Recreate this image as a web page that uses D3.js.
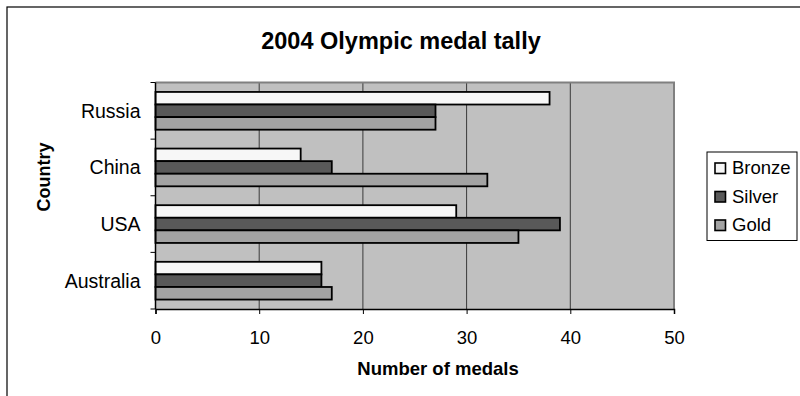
<!DOCTYPE html>
<html>
<head>
<meta charset="utf-8">
<script src="https://cdn.jsdelivr.net/npm/d3@7"></script>
<style>
  body { margin: 0; background: #fff; }
  svg { display: block; font-family: "Liberation Sans", Arial, sans-serif; }
</style>
</head>
<body>
<svg width="800" height="396"></svg>
<script>
// chart data
const countries = ["Russia", "China", "USA", "Australia"];
const series = ["Bronze", "Silver", "Gold"];
const bronze = [38, 14, 29, 16];
const silver = [27, 17, 39, 16];
const gold = [27, 32, 35, 17];
const xTicks = [0, 10, 20, 30, 40, 50];

const fills = { Bronze: "#f7f7f7", Silver: "#595959", Gold: "#a3a3a3" };
const values = { Bronze: bronze, Silver: silver, Gold: gold };

const svg = d3.select("svg");

// outer chart frame (runs off the right/bottom edge like the original)
svg.append("rect")
    .attr("x", 7).attr("y", 7)
    .attr("width", 860).attr("height", 420)
    .attr("fill", "#fff")
    .attr("stroke", "#000")
    .attr("stroke-width", 1.2);

const plot = { left: 155.5, right: 674, top: 82.5, bottom: 309 };

const x = d3.scaleLinear().domain([0, 50]).range([plot.left, plot.right]);
const y = d3.scaleBand().domain(countries).range([plot.top, plot.bottom]);

// bars take 3 parts, gap width 150% of a bar => 1.5 parts
const inner = d3.scaleBand().domain(series)
    .range([0, y.bandwidth()])
    .paddingOuter(0.75).paddingInner(0);

// plot background
svg.append("rect")
    .attr("x", plot.left).attr("y", plot.top)
    .attr("width", plot.right - plot.left).attr("height", plot.bottom - plot.top)
    .attr("fill", "#c0c0c0");

// gridlines
svg.append("g")
    .selectAll("line")
    .data(xTicks.slice(1, -1))
    .join("line")
    .attr("x1", d => x(d)).attr("x2", d => x(d))
    .attr("y1", plot.top).attr("y2", plot.bottom)
    .attr("stroke", "#3a3a3a")
    .attr("stroke-width", 1);

// plot border top + right (gray)
svg.append("path")
    .attr("d", `M${plot.left},${plot.top}H${plot.right}V${plot.bottom}`)
    .attr("fill", "none")
    .attr("stroke", "#808080")
    .attr("stroke-width", 2);

// bars
const rows = [];
countries.forEach((c, i) => {
    series.forEach(s => rows.push({ country: c, series: s, value: values[s][i] }));
});

svg.append("g")
    .selectAll("rect")
    .data(rows)
    .join("rect")
    .attr("x", x(0))
    .attr("y", d => y(d.country) + inner(d.series))
    .attr("width", d => x(d.value) - x(0))
    .attr("height", inner.bandwidth())
    .attr("fill", d => fills[d.series])
    .attr("stroke", "#000")
    .attr("stroke-width", 1.8);

// x axis
const xAxis = svg.append("g")
    .attr("transform", `translate(0,${plot.bottom})`)
    .call(d3.axisBottom(x).tickValues(xTicks).tickSize(5).tickPadding(17));
xAxis.select(".domain").attr("stroke", "#000").attr("stroke-width", 1.5);
xAxis.selectAll(".tick line").attr("stroke", "#000");
xAxis.selectAll("text").attr("font-size", 18.5).attr("fill", "#000")
    .attr("font-family", "Liberation Sans, Arial, sans-serif");

// y axis: ticks at band edges, labels at band centres
const yAxis = svg.append("g").attr("transform", `translate(${plot.left},0)`);
yAxis.append("line")
    .attr("x1", 0).attr("x2", 0)
    .attr("y1", plot.top).attr("y2", plot.bottom)
    .attr("stroke", "#000").attr("stroke-width", 1.5);
yAxis.selectAll(".edge")
    .data(countries.concat([null]))
    .join("line")
    .attr("class", "edge")
    .attr("x1", -5).attr("x2", 0)
    .attr("y1", d => d ? y(d) : plot.bottom)
    .attr("y2", d => d ? y(d) : plot.bottom)
    .attr("stroke", "#000");
yAxis.selectAll("text")
    .data(countries)
    .join("text")
    .attr("x", -15)
    .attr("y", d => y(d) + y.bandwidth() / 2)
    .attr("dy", "0.35em")
    .attr("text-anchor", "end")
    .attr("font-size", 19.5)
    .text(d => d);

// titles
svg.append("text")
    .attr("x", 401).attr("y", 49)
    .attr("text-anchor", "middle")
    .attr("font-size", 23.5).attr("font-weight", "bold")
    .text("2004 Olympic medal tally");

svg.append("text")
    .attr("x", 438).attr("y", 375)
    .attr("text-anchor", "middle")
    .attr("font-size", 18.5).attr("font-weight", "bold")
    .text("Number of medals");

svg.append("text")
    .attr("transform", "translate(50,177) rotate(-90)")
    .attr("text-anchor", "middle")
    .attr("font-size", 18).attr("font-weight", "bold")
    .text("Country");

// legend
const legend = svg.append("g").attr("transform", "translate(707,152)");
legend.append("rect")
    .attr("width", 90).attr("height", 88.5)
    .attr("fill", "#fff").attr("stroke", "#000").attr("stroke-width", 1);
const item = legend.selectAll(".item")
    .data(series)
    .join("g")
    .attr("class", "item")
    .attr("transform", (d, i) => `translate(8,${16 + i * 28.5})`);
item.append("rect")
    .attr("x", 0).attr("y", -5)
    .attr("width", 10.5).attr("height", 10.5)
    .attr("fill", d => fills[d])
    .attr("stroke", "#000").attr("stroke-width", 1.6);
item.append("text")
    .attr("x", 17).attr("dy", "0.35em")
    .attr("font-size", 18.5)
    .text(d => d);
</script>
</body>
</html>
